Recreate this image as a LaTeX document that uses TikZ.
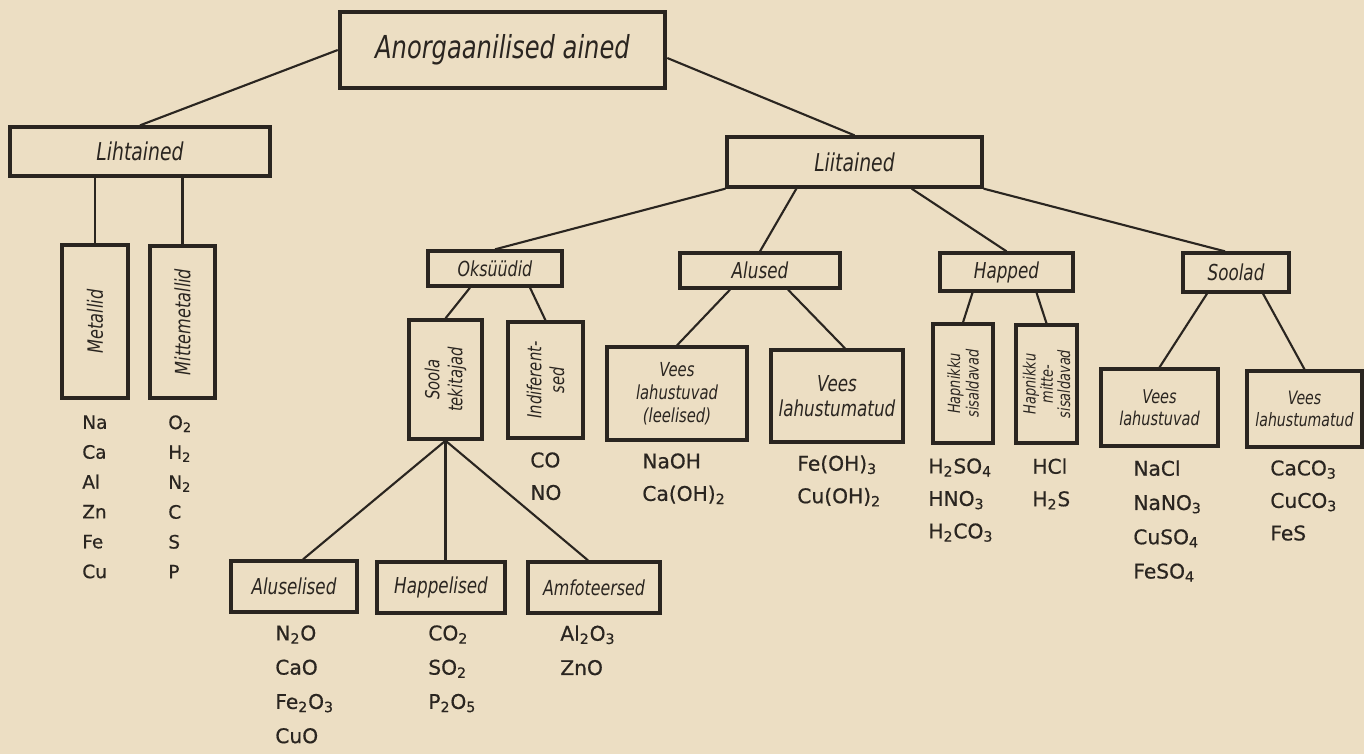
\documentclass[tikz,border=0pt]{standalone}
\usepackage{fontspec}
\setmainfont{DejaVu Sans}
\newfontfamily\formfont[FakeBold=0.6]{DejaVu Sans}
\newfontfamily\labfont[FakeStretch=0.85]{DejaVu Sans Condensed}
\usetikzlibrary{calc}
\definecolor{paper}{RGB}{236,222,195}
\definecolor{ink}{RGB}{42,37,32}
\newcommand{\ix}[1]{\textsubscript{#1}}

\begin{document}
\begin{tikzpicture}[x=0.02cm, y=-0.02cm,
  color=ink,
  box/.style={draw=ink, line width=1.9pt, inner sep=2pt, align=center,
    font=\labfont\itshape\fontsize{11}{13}\selectfont},
  vbox/.style={box, rotate=90},
  list/.style={anchor=north west, inner sep=0pt, align=left,
    font=\formfont\fontsize{11.5}{18.5}\selectfont},
  link/.style={draw=ink, line width=1.2pt},
  lab/.style={font=\labfont\itshape\fontsize{12.5}{14}\selectfont}]
\fill[paper] (0,0) rectangle (1364,754);
% top levels
\node[box, line width=2.6pt, minimum width=6.5cm, minimum height=1.52cm,
  font=\labfont\itshape\fontsize{18}{20}\selectfont] (top) at (502.5,50) {Anorgaanilised ained};
\node[box, minimum width=5.2cm, minimum height=0.98cm,
  font=\labfont\itshape\fontsize{14}{16}\selectfont] (liht) at (140,151.5) {Lihtained};
\node[box, minimum width=5.1cm, minimum height=1.0cm,
  font=\labfont\itshape\fontsize{14}{16}\selectfont] (liit) at (854.5,162) {Liitained};
% lihtained
\node[vbox, minimum width=3.06cm, minimum height=1.32cm,
  font=\labfont\itshape\fontsize{12}{14}\selectfont] (metal) at (95,321.5) {Metallid};
\node[vbox, minimum width=3.04cm, minimum height=1.3cm,
  font=\labfont\itshape\fontsize{12}{14}\selectfont] (mitte) at (182.5,322) {Mittemetallid};
% liitained
\node[box, lab, font=\labfont\itshape\fontsize{11.8}{14}\selectfont,
  minimum width=2.68cm, minimum height=0.7cm] (oks) at (495,268.5) {Oksüüdid};
\node[box, lab, minimum width=3.2cm, minimum height=0.7cm] (alused) at (760,270.5) {Alused};
\node[box, lab, minimum width=2.66cm, minimum height=0.76cm] (happed) at (1006.5,272) {Happed};
\node[box, lab, minimum width=2.12cm, minimum height=0.78cm] (soolad) at (1236,272.5) {Soolad};
% oksyydid
\node[vbox, minimum width=2.38cm, minimum height=1.46cm] (soola) at (445.5,379.5) {Soola\\tekitajad};
\node[vbox, minimum width=2.32cm, minimum height=1.5cm] (indif) at (545.5,380) {Indiferent-\\sed};
\node[box, lab, minimum width=2.52cm, minimum height=1.02cm] (alusel) at (294,586.5) {Aluselised};
\node[box, lab, minimum width=2.56cm, minimum height=1.02cm] (happel) at (441,587.5) {Happelised};
\node[box, lab, font=\labfont\itshape\fontsize{11.8}{14}\selectfont,
  minimum width=2.64cm, minimum height=1.02cm] (amfo) at (594,587.5) {Amfoteersed};
% alused
\node[box, minimum width=2.8cm, minimum height=1.86cm] (leel) at (677,393.5) {Vees\\lahustuvad\\(leelised)};
\node[box, minimum width=2.64cm, minimum height=1.84cm,
  font=\labfont\itshape\fontsize{12.5}{14.5}\selectfont] (alumat) at (837,396) {Vees\\lahustumatud};
% happed
\node[vbox, minimum width=2.38cm, minimum height=1.2cm,
  font=\labfont\itshape\fontsize{9.6}{10.5}\selectfont] (hapsis) at (963,383.5) {Hapnikku\\sisaldavad};
\node[vbox, minimum width=2.36cm, minimum height=1.22cm,
  font=\labfont\itshape\fontsize{9.6}{9.8}\selectfont] (hapmitte) at (1046.5,384) {Hapnikku\\mitte-\\sisaldavad};
% soolad
\node[box, minimum width=2.34cm, minimum height=1.54cm,
  font=\labfont\itshape\fontsize{10.8}{12.5}\selectfont] (soolust) at (1159.5,407.5) {Vees\\lahustuvad};
\node[box, minimum width=2.3cm, minimum height=1.52cm,
  font=\labfont\itshape\fontsize{10.5}{12.5}\selectfont] (soolmat) at (1304.5,409) {Vees\\lahustumatud};
% formulas
\node[list, font=\formfont\fontsize{10.5}{17}\selectfont] (metlist) at (82,415) {Na\\Ca\\Al\\Zn\\Fe\\Cu};
\node[list, font=\formfont\fontsize{10.5}{17}\selectfont] (mittlist) at (168,415) {O\ix{2}\\H\ix{2}\\N\ix{2}\\C\\S\\P};
\node[list] (indiflist) at (530,452) {CO\\NO};
\node[list] (leellist) at (642,453) {NaOH\\Ca(OH)\ix{2}};
\node[list] (alumatlist) at (797,455) {Fe(OH)\ix{3}\\Cu(OH)\ix{2}};
\node[list] (hapsislist) at (928,458) {H\ix{2}SO\ix{4}\\HNO\ix{3}\\H\ix{2}CO\ix{3}};
\node[list] (hapmittelist) at (1032,458) {HCl\\H\ix{2}S};
\node[list, font=\formfont\fontsize{11.5}{19.5}\selectfont] (soollustlist) at (1133,460) {NaCl\\NaNO\ix{3}\\CuSO\ix{4}\\FeSO\ix{4}};
\node[list] (soolmatlist) at (1270,460) {CaCO\ix{3}\\CuCO\ix{3}\\FeS};
\node[list, font=\formfont\fontsize{11.5}{19.5}\selectfont] (aluselist) at (275,625) {N\ix{2}O\\CaO\\Fe\ix{2}O\ix{3}\\CuO};
\node[list, font=\formfont\fontsize{11.5}{19.5}\selectfont] (happellist) at (428,625) {CO\ix{2}\\SO\ix{2}\\P\ix{2}O\ix{5}};
\node[list, font=\formfont\fontsize{11.5}{19.5}\selectfont] (amfolist) at (560,625) {Al\ix{2}O\ix{3}\\ZnO};
% connectors
\draw[link] (top.west) -- (liht.north);
\draw[link] ($(top.east)+(0,8)$) -- (liit.north);
\draw[link] (metal.east |- liht.south) -- (metal.east);
\draw[link] (mitte.east |- liht.south) -- (mitte.east);
\draw[link] (liit.south west) -- (oks.north);
\draw[link] ($(liit.south west)+(71,0)$) -- (alused.north);
\draw[link] ($(liit.south east)+(-72,0)$) -- (happed.north);
\draw[link] (liit.south east) -- ($(soolad.north)+(-11,0)$);
\draw[link] ($(oks.south)+(-25,0)$) -- (soola.east);
\draw[link] ($(oks.south)+(35,0)$) -- (indif.east);
\draw[link] (soola.west) -- ($(alusel.north)+(9,0)$);
\draw[link] (soola.west) -- (soola.west |- happel.north);
\draw[link] (soola.west) -- ($(amfo.north)+(-6,0)$);
\draw[link] ($(alused.south)+(-30,0)$) -- (leel.north);
\draw[link] ($(alused.south)+(28,0)$) -- ($(alumat.north)+(8,0)$);
\draw[link] ($(happed.south)+(-34,0)$) -- (hapsis.east);
\draw[link] ($(happed.south)+(30,0)$) -- (hapmitte.east);
\draw[link] ($(soolad.south)+(-29,0)$) -- (soolust.north);
\draw[link] ($(soolad.south)+(27,0)$) -- (soolmat.north);
\end{tikzpicture}
\end{document}
